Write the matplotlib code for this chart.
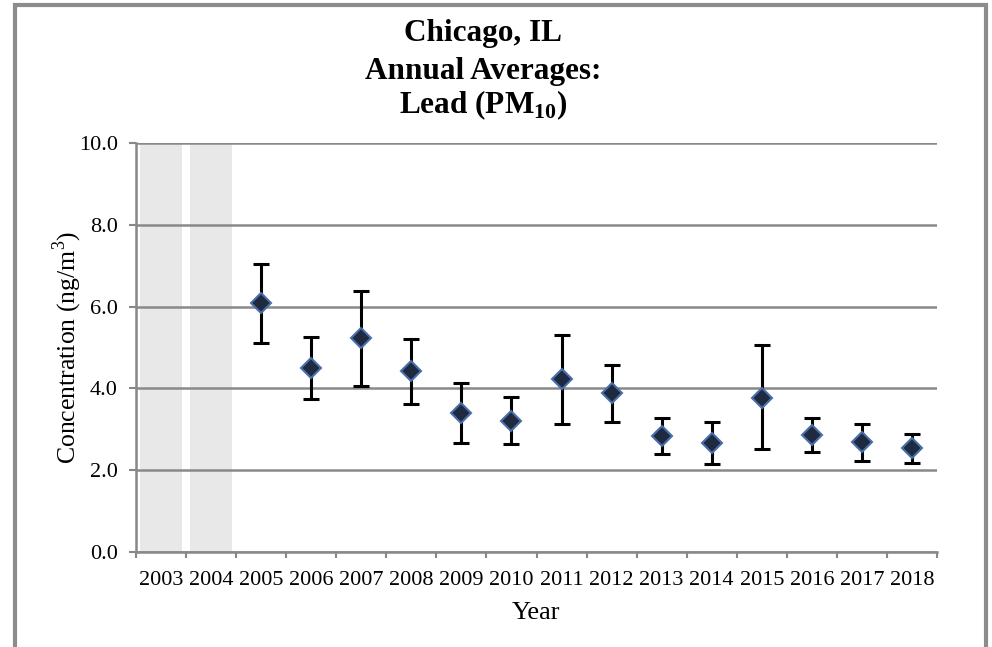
import matplotlib
matplotlib.use("Agg")
import matplotlib.pyplot as plt
from matplotlib.patches import Rectangle
import numpy as np

years = [str(y) for y in range(2003, 2019)]
shaded_years = ["2003", "2004"]
shade_height = 10.0
means = [None, None, 6.10, 4.51, 5.24, 4.42, 3.39, 3.20, 4.23, 3.88, 2.84, 2.66, 3.77, 2.86, 2.70, 2.54]
upper = [None, None, 7.05, 5.26, 6.38, 5.20, 4.12, 3.78, 5.30, 4.57, 3.28, 3.18, 5.05, 3.27, 3.14, 2.89]
lower = [None, None, 5.12, 3.75, 4.06, 3.62, 2.66, 2.63, 3.13, 3.17, 2.39, 2.15, 2.51, 2.44, 2.22, 2.18]

plt.rcParams['font.family'] = ['Liberation Serif', 'DejaVu Serif']
plt.rcParams['mathtext.fontset'] = 'custom'
plt.rcParams['mathtext.rm'] = 'Liberation Serif'
plt.rcParams['mathtext.bf'] = 'Liberation Serif:bold'

fig = plt.figure(figsize=(9.92, 6.47), dpi=100)
fig.patch.set_facecolor('white')
# outer frame
fig.patches.append(Rectangle((15/992, -0.05), (986-15)/992, 1.05 - 5/647, transform=fig.transFigure,
                             fill=False, edgecolor='#8c8c8c', linewidth=3.0, zorder=0))

ax = fig.add_axes([136/992, 95/647, 801/992, 409/647])
x = np.arange(len(years))

# shaded bars
sx = [years.index(y) for y in shaded_years]
ax.bar(sx, [shade_height]*len(sx), width=0.84, color='#e8e8e8', zorder=1)

idx = [i for i, m in enumerate(means) if m is not None]
mv = np.array([means[i] for i in idx])
up = np.array([upper[i] for i in idx])
lo = np.array([lower[i] for i in idx])
ax.errorbar(idx, mv, yerr=[mv - lo, up - mv], fmt='none', ecolor='black',
            elinewidth=2.2, capsize=6, capthick=2.2, zorder=3)
ax.plot(idx, mv, linestyle='none', marker='D', markersize=10, markerfacecolor='#1f2940',
        markeredgecolor='#4a6fa8', markeredgewidth=1.5, zorder=4)

ax.set_xlim(-0.5, len(years) - 0.5)
ax.set_ylim(0, 10)
ax.set_yticks(np.arange(0, 10.01, 2.0))
ax.set_yticklabels([f"{v:.1f}" for v in np.arange(0, 10.01, 2.0)], fontsize=16)
ax.set_xticks(x)
ax.set_xticklabels(years, fontsize=16)
ax.set_xticks(np.arange(-0.5, len(years), 1.0), minor=True)
ax.tick_params(axis='x', which='major', length=0, pad=14)
ax.tick_params(axis='x', which='minor', length=4.5, width=1.5, color='#888888', direction='out')
ax.tick_params(axis='y', length=5, width=1.5, color='#888888', direction='out', pad=8)

ax.yaxis.grid(True, color='#898989', linewidth=1.8)
for gl in ax.get_ygridlines():
    gl.set_zorder(1.5)
for s in ['top', 'right']:
    ax.spines[s].set_visible(False)
for s in ['left', 'bottom']:
    ax.spines[s].set_color('#888888')
    ax.spines[s].set_linewidth(1.8)

ax.set_xlabel('Year', fontsize=19, labelpad=8)
ax.set_ylabel('Concentration (ng/m$^3$)', fontsize=18.5, va='center')
ax.yaxis.set_label_coords(-0.086, 0.5)

fig.text(483/992, 1 - 34/647, 'Chicago, IL', ha='center', va='center', fontsize=22.5, fontweight='bold')
fig.text(483/992, 1 - 71/647, 'Annual Averages:', ha='center', va='center', fontsize=22.5, fontweight='bold')
fig.text(483/992, 1 - 105/647, r'Lead (PM$_{\mathbf{10}}$)', ha='center', va='center', fontsize=22.5, fontweight='bold')

fig.savefig('out.png', dpi=100, facecolor='white')
